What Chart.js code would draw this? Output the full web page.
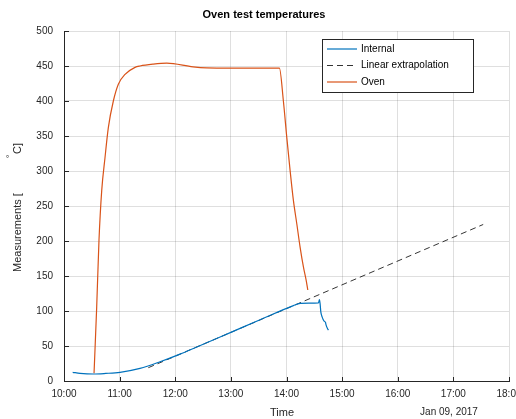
<!DOCTYPE html>
<html>
<head>
<meta charset="utf-8">
<script src="https://cdn.jsdelivr.net/npm/chart.js@4/dist/chart.umd.min.js"></script>
<style>
  html, body { margin: 0; padding: 0; background: #fff; }
  #wrap { width: 516px; height: 419px; }
</style>
</head>
<body>
<div id="wrap"><canvas id="ovenChart"></canvas></div>
<script>
// Times are decimal hours of the day (10.5 = 10:30), values in deg C
const internalTime = [10.156, 10.288, 10.527, 10.75, 11.007, 11.367, 11.727, 12.086, 12.387, 13.0, 13.525,
  14.124, 14.245, 14.40, 14.574, 14.592, 14.604, 14.617, 14.640, 14.676, 14.700, 14.712, 14.736, 14.754];
const internalTemp = [12.4, 11, 10, 10.8, 12.4, 18, 27.5, 38.4, 48.6, 69.5, 87.4,
  107.7, 110.8, 111.2, 111.5, 116.3, 110.6, 98.7, 91.6, 85.5, 84, 79.8, 75, 72.6];

const extrapTime = [11.516, 17.536];
const extrapTemp = [19, 223.6];

const ovenTime = [10.54, 10.588, 10.629, 10.678, 10.737, 10.797, 10.887, 10.977, 11.097, 11.277, 11.367,
  11.60, 11.847, 12.32, 12.567, 13.0, 13.5, 13.872, 13.944, 14.005, 14.065, 14.124, 14.185, 14.245,
  14.304, 14.353, 14.383];
const ovenTemp = [11, 106, 201, 272, 319, 362, 400, 424, 438, 448, 450,
  452.6, 454, 448.7, 447.3, 447, 447, 447, 400, 348, 300.6, 258, 224.6, 191,
  163, 144, 130];

const yTicks = [0, 50, 100, 150, 200, 250, 300, 350, 400, 450, 500];
const xTickLabels = ["10:00", "11:00", "12:00", "13:00", "14:00", "15:00", "16:00", "17:00", "18:00"];

const FONT = '"Liberation Sans", Arial, Helvetica, sans-serif';
const AXIS = "#262626";
const GRID = "rgba(38, 38, 38, 0.15)";

function toPoints(xs, ys) {
  return xs.map((x, i) => ({ x: x, y: ys[i] }));
}

// draws inward ticks, title, axis labels and the boxed legend
const overlay = {
  id: "overlay",
  afterDraw(chart) {
    const ctx = chart.ctx;
    const a = chart.chartArea;
    const xs = chart.scales.x;
    const ys = chart.scales.y;
    ctx.save();

    // inward tick marks like the original
    ctx.strokeStyle = AXIS;
    ctx.lineWidth = 1;
    ctx.beginPath();
    ys.ticks.forEach((t) => {
      const y = Math.round(ys.getPixelForValue(t.value)) + 0.5;
      ctx.moveTo(a.left, y);
      ctx.lineTo(a.left + 5, y);
    });
    xs.ticks.forEach((t) => {
      const x = Math.round(xs.getPixelForValue(t.value)) + 0.5;
      ctx.moveTo(x, a.bottom);
      ctx.lineTo(x, a.bottom - 4);
    });
    ctx.stroke();

    ctx.fillStyle = "#000";
    ctx.textBaseline = "middle";
    ctx.textAlign = "center";
    ctx.font = "bold 11px " + FONT;
    ctx.fillText("Oven test temperatures", 264, 15);

    ctx.fillStyle = AXIS;
    ctx.font = "11px " + FONT;
    ctx.fillText("Time", 282, 413);
    ctx.font = "10px " + FONT;
    ctx.fillText("Jan 09, 2017", 449, 412);

    // y label with the raised degree sign
    ctx.save();
    ctx.translate(18, 272);
    ctx.rotate(-Math.PI / 2);
    ctx.textAlign = "left";
    ctx.font = "11px " + FONT;
    ctx.fillText("Measurements [", 0, 0);
    ctx.font = "8px " + FONT;
    ctx.fillText("\u00B0", 114, -8);
    ctx.font = "11px " + FONT;
    ctx.fillText("C]", 118, 0);
    ctx.restore();

    // legend box
    const lx = 322.5, ly = 39.5, lw = 151, lh = 53;
    ctx.fillStyle = "#fff";
    ctx.fillRect(lx, ly, lw, lh);
    ctx.strokeStyle = AXIS;
    ctx.lineWidth = 1;
    ctx.strokeRect(lx, ly, lw, lh);
    const rows = [49, 65.5, 82];
    ctx.font = "10px " + FONT;
    ctx.textAlign = "left";
    chart.data.datasets.forEach((ds, i) => {
      ctx.beginPath();
      ctx.strokeStyle = ds.borderColor;
      ctx.lineWidth = ds.borderWidth;
      ctx.setLineDash(ds.borderDash || []);
      ctx.moveTo(327, rows[i]);
      ctx.lineTo(357, rows[i]);
      ctx.stroke();
      ctx.setLineDash([]);
      ctx.fillStyle = "#000";
      ctx.fillText(ds.label, 361, rows[i]);
    });

    ctx.restore();
  },
};

Chart.defaults.font.family = FONT;

new Chart(document.getElementById("ovenChart"), {
  type: "line",
  data: {
    datasets: [
      {
        label: "Internal",
        data: toPoints(internalTime, internalTemp),
        borderColor: "#0072BD",
        borderWidth: 1.2,
        pointRadius: 0,
        cubicInterpolationMode: "monotone",
      },
      {
        label: "Linear extrapolation",
        data: toPoints(extrapTime, extrapTemp),
        borderColor: "#000000",
        borderWidth: 0.8,
        borderDash: [6, 4],
        pointRadius: 0,
      },
      {
        label: "Oven",
        data: toPoints(ovenTime, ovenTemp),
        borderColor: "#D95319",
        borderWidth: 1.2,
        pointRadius: 0,
        cubicInterpolationMode: "monotone",
      },
    ],
  },
  options: {
    responsive: true,
    maintainAspectRatio: false,
    animation: false,
    layout: { padding: { left: 0, top: 31, right: 7, bottom: 0 } },
    plugins: {
      legend: { display: false },
      title: { display: false },
      tooltip: { enabled: false },
    },
    scales: {
      x: {
        type: "linear",
        min: 10,
        max: 18,
        afterFit: (scale) => {
          scale.height = 38;
          scale.paddingLeft = 0;
          scale.paddingRight = 0;
        },
        afterBuildTicks: (scale) => {
          scale.ticks = xTickLabels.map((lab, i) => ({ value: 10 + i }));
        },
        ticks: {
          color: AXIS,
          font: { size: 10 },
          padding: 7,
          maxRotation: 0,
          autoSkip: false,
          callback: (v, i) => xTickLabels[i],
        },
        grid: { color: GRID, drawTicks: false },
        border: { color: AXIS, width: 1 },
      },
      y: {
        min: 0,
        max: 500,
        afterFit: (scale) => {
          scale.width = 64;
          scale.paddingTop = 0;
          scale.paddingBottom = 0;
        },
        afterBuildTicks: (scale) => {
          scale.ticks = yTicks.map((v) => ({ value: v }));
        },
        ticks: {
          color: AXIS,
          font: { size: 10 },
          padding: 11,
          callback: (v) => String(v),
        },
        grid: { color: GRID, drawTicks: false },
        border: { color: AXIS, width: 1 },
      },
    },
  },
  plugins: [overlay],
});
</script>
</body>
</html>
